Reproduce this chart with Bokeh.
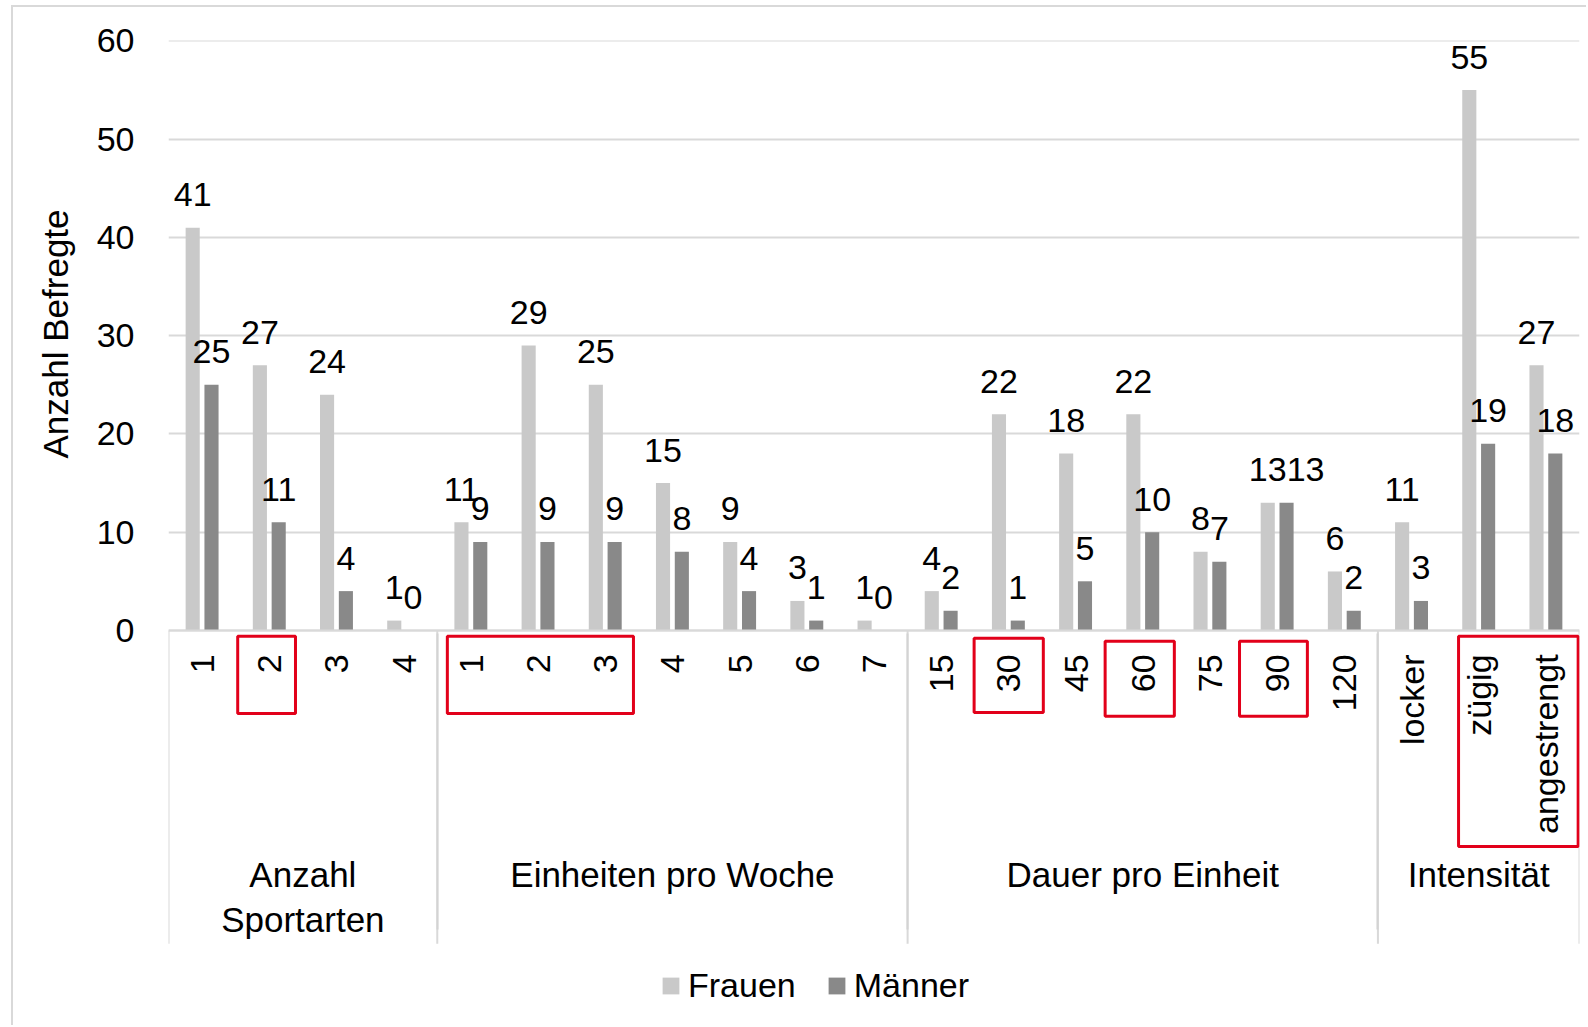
import math
import numpy as np
from bokeh.plotting import figure
from bokeh.models import (FactorRange, Range1d, CategoricalAxis, FixedTicker,
                          ColumnDataSource, Legend, LegendItem, Title)
from bokeh.transform import dodge
from bokeh.core.properties import value
from bokeh.embed import file_html
from bokeh.resources import INLINE

# ---- data -------------------------------------------------------------
groups = ["Anzahl\nSportarten", "Einheiten pro Woche", "Dauer pro Einheit", "Intensität"]

sub_sportarten = ["1", "2", "3", "4"]
sub_einheiten = ["1", "2", "3", "4", "5", "6", "7"]
sub_dauer = ["15", "30", "45", "60", "75", "90", "120"]
sub_intensitaet = ["locker", "zügig", "angestrengt"]

frauen_sportarten = [41, 27, 24, 1]
maenner_sportarten = [25, 11, 4, 0]
frauen_einheiten = [11, 29, 25, 15, 9, 3, 1]
maenner_einheiten = [9, 9, 9, 8, 4, 1, 0]
frauen_dauer = [4, 22, 18, 22, 8, 13, 6]
maenner_dauer = [2, 1, 5, 10, 7, 13, 2]
frauen_intensitaet = [11, 55, 27]
maenner_intensitaet = [3, 19, 18]

y_ticks = [0, 10, 20, 30, 40, 50, 60]

# categories framed in red: (group, first sub, last sub)
highlights = [
    ("Anzahl\nSportarten", "2", "2"),
    ("Einheiten pro Woche", "1", "3"),
    ("Dauer pro Einheit", "30", "30"),
    ("Dauer pro Einheit", "60", "60"),
    ("Dauer pro Einheit", "90", "90"),
    ("Intensität", "zügig", "angestrengt"),
]

# ---- styling ----------------------------------------------------------
FONT = "Liberation Sans"
FS = "34px"
C_FRAUEN = "#c9c9c9"
C_MAENNER = "#898989"
C_GRID = "#d9d9d9"
C_RED = "#e2001a"
BAR_W = 0.21
OFF = 0.14

subs = [sub_sportarten, sub_einheiten, sub_dauer, sub_intensitaet]
frauen = frauen_sportarten + frauen_einheiten + frauen_dauer + frauen_intensitaet
maenner = maenner_sportarten + maenner_einheiten + maenner_dauer + maenner_intensitaet
factors = [(g, s) for g, ss in zip(groups, subs) for s in ss]

# the men's label at 90 min is nudged right so the two "13" do not collide
m_shift = [19 if f == ("Dauer pro Einheit", "90") else 0 for f in factors]

src = ColumnDataSource(dict(
    x=factors,
    frauen=frauen,
    maenner=maenner,
    f_lbl=[str(v) for v in frauen],
    m_lbl=[str(v) for v in maenner],
    f_shift=[0] * len(factors),
    m_shift=m_shift,
))

x_range = FactorRange(*factors, factor_padding=0, group_padding=0, range_padding=0)

p = figure(x_range=x_range, y_range=Range1d(-39.2, 60.05),
           width=1575, height=1020, output_backend="svg", toolbar_location=None,
           x_axis_location=None, title_location=None,
           min_border_left=155, min_border_top=33, min_border_right=9, min_border_bottom=12)
p.margin = (5, 0, 0, 11)
p.styles = {"border-left": "2px solid #d9d9d9", "border-top": "2px solid #d9d9d9"}
p.outline_line_color = None
p.background_fill_color = "white"
p.border_fill_color = "white"

# bars
rf = p.vbar(x=dodge("x", -OFF, range=x_range), top="frauen", width=BAR_W,
            source=src, fill_color=C_FRAUEN, line_color=None)
rm = p.vbar(x=dodge("x", OFF, range=x_range), top="maenner", width=BAR_W,
            source=src, fill_color=C_MAENNER, line_color=None)

# value labels
for off, col, lbl, shift in [(-OFF, "frauen", "f_lbl", "f_shift"),
                             (OFF, "maenner", "m_lbl", "m_shift")]:
    p.text(x=dodge("x", off, range=x_range), y=col, text=lbl, source=src,
           x_offset=shift, y_offset=-33,
           text_align="center", text_baseline="alphabetic",
           text_font=value(FONT), text_font_size=FS, text_color="#000000")

# category axis sitting on the zero line
xaxis = CategoricalAxis(fixed_location=0)
xaxis.axis_line_color = C_GRID
xaxis.axis_line_width = 2
xaxis.major_tick_line_color = None
xaxis.minor_tick_line_color = None
xaxis.major_label_orientation = math.pi / 2
xaxis.major_label_standoff = 18
xaxis.major_label_text_font = FONT
xaxis.major_label_text_font_size = FS
xaxis.major_label_text_color = "#000000"
xaxis.group_label_orientation = "horizontal"
xaxis.group_text_font = FONT
xaxis.group_text_font_size = "35px"
xaxis.group_text_font_style = "normal"
xaxis.group_text_color = "#000000"
xaxis.group_text_line_height = 1.15
p.add_layout(xaxis, "below")

# group separators below the axis
sizes = [len(s) for s in subs]
bounds = np.concatenate([[0], np.cumsum(sizes)]).astype(float)
p.segment(x0=bounds, y0=np.zeros_like(bounds), x1=bounds, y1=np.full_like(bounds, -31.9),
          line_color=C_GRID, line_width=2)

# red frames around selected tick labels
index = {f: i for i, f in enumerate(factors)}
box_insets = [(0.03, 0.11, -0.6, -8.45), (0.15, 0.08, -0.6, -8.45),
              (-0.01, -0.02, -0.8, -8.35), (-0.06, 0.03, -1.1, -8.75),
              (-0.06, 0.05, -1.1, -8.75), (0.2, 0.02, -0.6, -22.0)]
lefts, rights, tops, bottoms = [], [], [], []
for (g, a, b), (il, ir, t, bt) in zip(highlights, box_insets):
    lefts.append(index[(g, a)] + il)
    rights.append(index[(g, b)] + 1 - ir)
    tops.append(t)
    bottoms.append(bt)
p.quad(left=lefts, right=rights, top=tops, bottom=bottoms, fill_color=None,
       line_color=C_RED, line_width=3)

# value axis
p.yaxis.ticker = FixedTicker(ticks=y_ticks)
p.yaxis.axis_line_color = None
p.yaxis.major_tick_line_color = None
p.yaxis.minor_tick_line_color = None
p.yaxis.major_label_standoff = 28
p.yaxis.major_label_text_font = FONT
p.yaxis.major_label_text_font_size = FS
p.yaxis.major_label_text_color = "#000000"
p.ygrid.grid_line_color = C_GRID
p.ygrid.grid_line_width = 2
p.xgrid.grid_line_color = None

ytitle = Title(text="Anzahl Befregte", align="left", offset=557, standoff=38,
               text_font=FONT, text_font_size="35px", text_font_style="normal",
               text_color="#000000")
p.add_layout(ytitle, "left")

legend = Legend(items=[LegendItem(label="Frauen", renderers=[rf]),
                       LegendItem(label="Männer", renderers=[rm])],
                orientation="horizontal", location=(492, 10),
                border_line_color=None, background_fill_alpha=0,
                padding=0, margin=0, spacing=30, label_standoff=7,
                glyph_width=21, glyph_height=21,
                label_text_font=FONT, label_text_font_size=FS,
                label_text_color="#000000")
p.add_layout(legend)

open("out.html", "w").write(file_html(p, INLINE))
